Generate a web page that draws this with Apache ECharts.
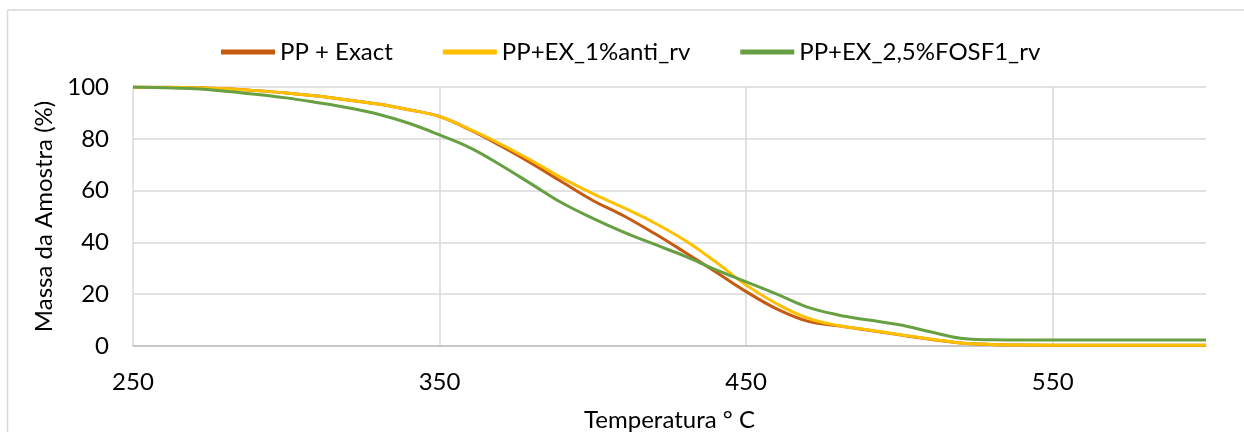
<!DOCTYPE html>
<html>
<head>
<meta charset="utf-8">
<script src="https://cdn.jsdelivr.net/npm/echarts@6/dist/echarts.min.js"></script>
<style>
html,body{margin:0;padding:0;background:#fff;}
#chart{width:1244px;height:432px;}
</style>
</head>
<body>
<div id="chart"></div>
<script>
const temperatures = [250,260,270,280,290,300,310,320,330,340,350,360,370,380,390,400,410,420,430,440,450,460,470,480,490,500,510,520,530,540,560,580,600];
const ppExact = [100,99.9,99.7,99.3,98.6,97.7,96.5,95.0,93.4,91.2,88.6,83.4,77.2,70.5,63.3,56.2,50.3,43.5,36.2,28.7,21.0,14.3,9.6,7.8,6.1,4.3,2.6,1.2,0.6,0.4,0.3,0.3,0.3];
const ppEx1Anti = [100,99.9,99.7,99.3,98.6,97.7,96.5,95.0,93.4,91.2,88.6,83.6,77.9,71.6,64.8,58.8,53.4,47.6,40.8,32.5,23.5,16.3,10.8,7.9,6.2,4.4,2.7,1.2,0.6,0.4,0.3,0.3,0.3];
const ppEx25Fosf = [100,99.7,99.3,98.4,97.2,95.8,94.0,92.0,89.5,86.0,81.5,76.5,69.8,62.5,55.2,49.3,44.0,39.3,34.7,29.5,24.8,20.0,15.0,12.0,10.0,8.2,5.5,3.0,2.4,2.3,2.3,2.3,2.3];
const seriesNames = ['PP + Exact','PP+EX_1%anti_rv','PP+EX_2,5%FOSF1_rv'];
const seriesColors = ['#C55A11','#FFC000','#67A043'];
const xAxisTitle = 'Temperatura ° C';
const yAxisTitle = 'Massa da Amostra (%)';

const FONT = 'Lato';
const FS = 24;
const values = [ppExact, ppEx1Anti, ppEx25Fosf];
const chart = echarts.init(document.getElementById('chart'));
chart.setOption({
  animation: false,
  backgroundColor: '#fff',
  graphic: [
    {type: 'line', silent: true, z: -10, shape: {x1: 7.5, y1: 10, x2: 1244, y2: 10}, style: {stroke: '#D9D9D9', lineWidth: 1.5}},
    {type: 'line', silent: true, z: -10, shape: {x1: 7.5, y1: 10, x2: 7.5, y2: 432}, style: {stroke: '#D9D9D9', lineWidth: 1.5}}
  ],
  legend: {
    left: 216, top: 35,
    itemWidth: 54, itemHeight: 5, itemGap: 50,
    icon: 'rect',
    textStyle: {fontFamily: FONT, fontSize: FS, color: '#000'},
    data: seriesNames
  },
  grid: {left: 133, right: 38, top: 87, bottom: 86, outerBoundsMode: 'none', containLabel: false},
  xAxis: {
    type: 'value', min: 250, max: 600, interval: 100,
    name: xAxisTitle, nameLocation: 'middle', nameGap: 62,
    nameTextStyle: {fontFamily: FONT, fontSize: FS, color: '#000'},
    axisLine: {show: true, lineStyle: {color: '#BFBFBF', width: 1.5}},
    axisTick: {show: false},
    axisLabel: {fontFamily: FONT, fontSize: FS, color: '#000', margin: 24, showMaxLabel: false},
    splitLine: {show: true, showMaxLine: false, lineStyle: {color: '#D9D9D9', width: 1.5}}
  },
  yAxis: {
    type: 'value', min: 0, max: 100, interval: 20,
    name: yAxisTitle, nameLocation: 'middle', nameGap: 76, nameRotate: 90,
    nameTextStyle: {fontFamily: FONT, fontSize: FS, color: '#000'},
    axisLine: {show: false},
    axisTick: {show: false},
    axisLabel: {fontFamily: FONT, fontSize: FS, color: '#000', margin: 24},
    splitLine: {show: true, lineStyle: {color: '#D9D9D9', width: 1.5}}
  },
  series: seriesNames.map((n, i) => ({
    name: n, type: 'line', smooth: 0.4, showSymbol: false, symbol: 'none',
    color: seriesColors[i],
    lineStyle: {width: 3, color: seriesColors[i]},
    data: temperatures.map((t, j) => [t, values[i][j]])
  }))
});
</script>
</body>
</html>
